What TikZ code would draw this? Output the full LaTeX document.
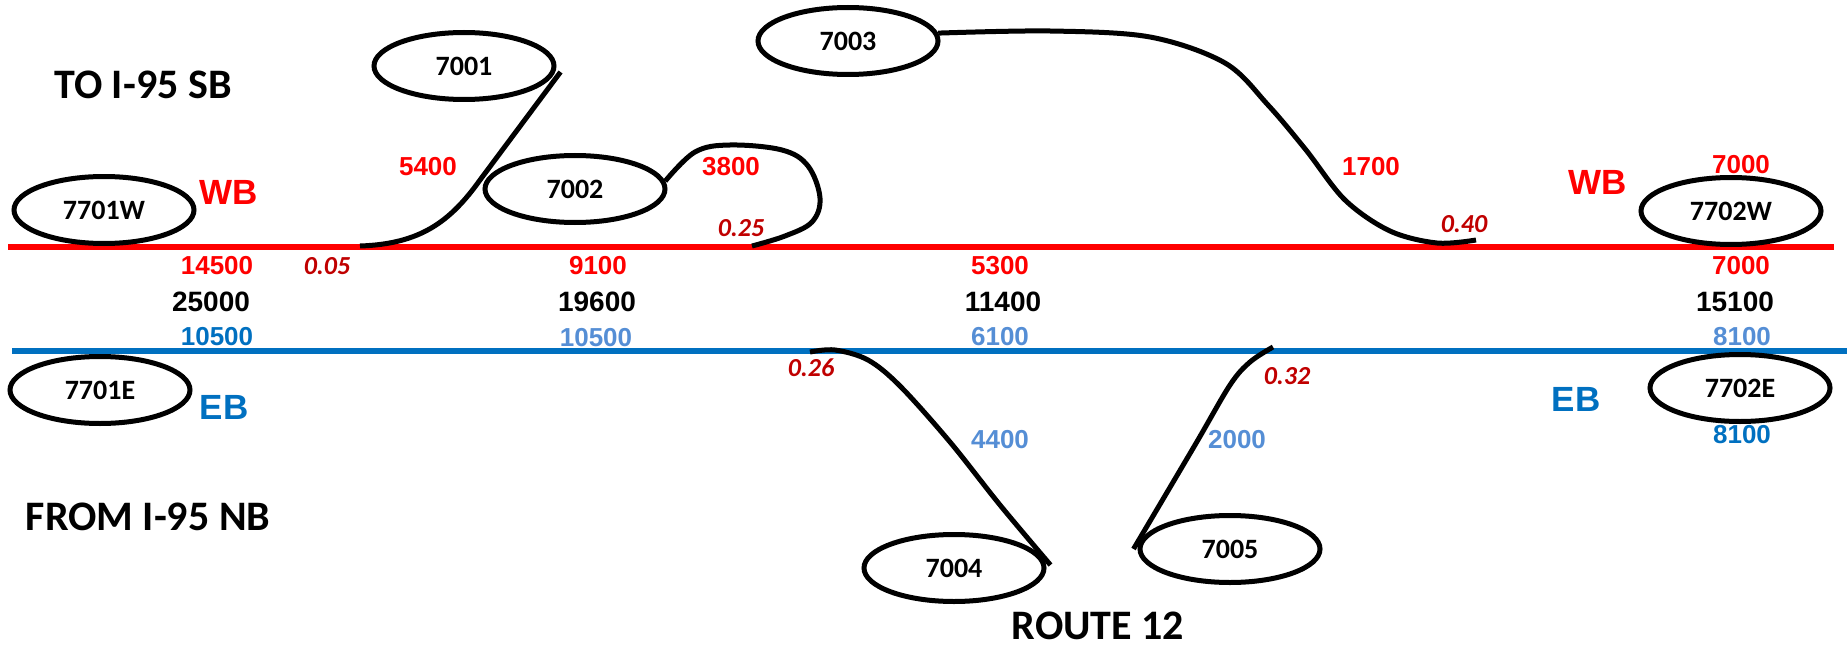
\documentclass[tikz,border=0pt]{standalone}
\usepackage{fontspec}
\setmainfont{Carlito}
\newfontfamily\arial{Liberation Sans}
\usetikzlibrary{shapes.geometric}
\definecolor{rd}{HTML}{FF0000}
\definecolor{drd}{HTML}{C00000}
\definecolor{bl}{HTML}{0070C0}
\definecolor{lbl}{HTML}{558ED5}
\begin{document}
\begin{tikzpicture}[x=1pt,y=-1pt,
  stn/.style={ellipse, draw, line width=5pt, minimum width=180pt, minimum height=67pt, inner sep=0pt, font=\bfseries\fontsize{28}{30}\selectfont},
  conn/.style={line width=5pt, line cap=butt},
  road/.style={line width=6pt},
  rnum/.style={text=rd, inner sep=0pt, font=\arial\bfseries\fontsize{26}{28}\selectfont},
  knum/.style={text=black, inner sep=0pt, font=\arial\bfseries\fontsize{28}{30}\selectfont},
  bnum/.style={text=bl, inner sep=0pt, font=\arial\bfseries\fontsize{26}{28}\selectfont},
  lnum/.style={text=lbl, inner sep=0pt, font=\arial\bfseries\fontsize{26}{28}\selectfont},
  dirlab/.style={inner sep=0pt, font=\arial\bfseries\fontsize{35}{38}\selectfont},
  ratio/.style={text=drd, inner sep=0pt, font=\bfseries\itshape\fontsize{26}{28}\selectfont},
  title/.style={inner sep=0pt, font=\bfseries\fontsize{42}{44}\selectfont}
]
\useasboundingbox (0,0) rectangle (1847,650);

% roads
\coordinate (wbL) at (8,247);
\coordinate (wbR) at (1834,247);
\coordinate (ebL) at (12,351);
\coordinate (ebR) at (1847,351);
\draw[road, rd] (wbL) -- (wbR);
\draw[road, bl] (ebL) -- (ebR);

% stations
\node[stn] (n7701W) at (104,210) {7701W};
\node[stn] (n7001) at (464,66) {7001};
\node[stn] (n7002) at (575,189) {7002};
\node[stn] (n7003) at (848,41) {7003};
\node[stn] (n7702W) at (1731,211) {7702W};
\node[stn] (n7701E) at (100,390) {7701E};
\node[stn] (n7702E) at (1740,388) {7702E};
\node[stn] (n7004) at (954,568) {7004};
\node[stn] (n7005) at (1230,549) {7005};

% ramp attachment points
\coordinate (r1) at (360,246);
\coordinate (r2) at (752,246);
\coordinate (r3) at (1476,240);
\coordinate (r4) at (810,352);
\coordinate (r5) at (1273,347);

% connectors
\draw[conn] (r1) .. controls (420,244) and (450,222) .. (480,180) -- ([shift={(4,6)}]n7001.east);
\draw[conn] plot[smooth, tension=0.6] coordinates {(n7002.5) (695,152) (730,145) (782,150) (808,166) (820,198) (812,222) (785,236) (r2)};
\draw[conn] plot[smooth, tension=0.55] coordinates {(n7003.5) (1050,31) (1150,37) (1225,63) (1268,105) (1306,150) (1345,200) (1390,231) (1437,243) (r3)};
\draw[conn] plot[smooth, tension=0.55] coordinates {(r4) (835,350) (868,360) (900,386) (950,442) (1000,505) ([shift={(4,-3)}]n7004.east)};
\draw[conn] plot[smooth, tension=0.55] coordinates {([xshift=-4pt]n7005.west) (1195,445) (1230,385) (1250,362) (r5)};

% titles
\node[title] (t1) at (143,85) {TO I-95 SB};
\node[title] (t2) at (148,517) {FROM I-95 NB};
\node[title] (t3) at (1098,626) {ROUTE 12};

% direction labels
\node[dirlab, text=rd] (wb1) at (229,192) {WB};
\node[dirlab, text=rd] (wb2) at (1598,182) {WB};
\node[dirlab, text=bl] (eb1) at (224,407) {EB};
\node[dirlab, text=bl] (eb2) at (1576,399) {EB};

% red volumes
\node[rnum] (v5400) at (428,167) {5400};
\node[rnum] (v3800) at (731,167) {3800};
\node[rnum] (v1700) at (1371,167) {1700};
\node[rnum] (v7000a) at (1741,165) {7000};
\node[rnum] (v14500) at (217,266) {14500};
\node[rnum] (v9100) at (598,266) {9100};
\node[rnum] (v5300) at (1000,266) {5300};
\node[rnum] (v7000b) at (1741,266) {7000};

% black totals
\node[knum] (k25000) at (211,302) {25000};
\node[knum] (k19600) at (597,302) {19600};
\node[knum] (k11400) at (1003,302) {11400};
\node[knum] (k15100) at (1735,302) {15100};

% blue volumes
\node[bnum] (b10500a) at (217,337) {10500};
\node[lnum] (b10500b) at (596,338) {10500};
\node[lnum] (b6100) at (1000,337) {6100};
\node[lnum] (b8100a) at (1742,337) {8100};
\node[lnum] (b4400) at (1000,440) {4400};
\node[lnum] (b2000) at (1237,440) {2000};
\node[bnum] (b8100b) at (1742,435) {8100};

% ratios
\node[ratio] (p005) at (327,266) {0.05};
\node[ratio] (p025) at (741,228) {0.25};
\node[ratio] (p040) at (1464,224) {0.40};
\node[ratio] (p026) at (811,368) {0.26};
\node[ratio] (p032) at (1287,376) {0.32};
\end{tikzpicture}
\end{document}
